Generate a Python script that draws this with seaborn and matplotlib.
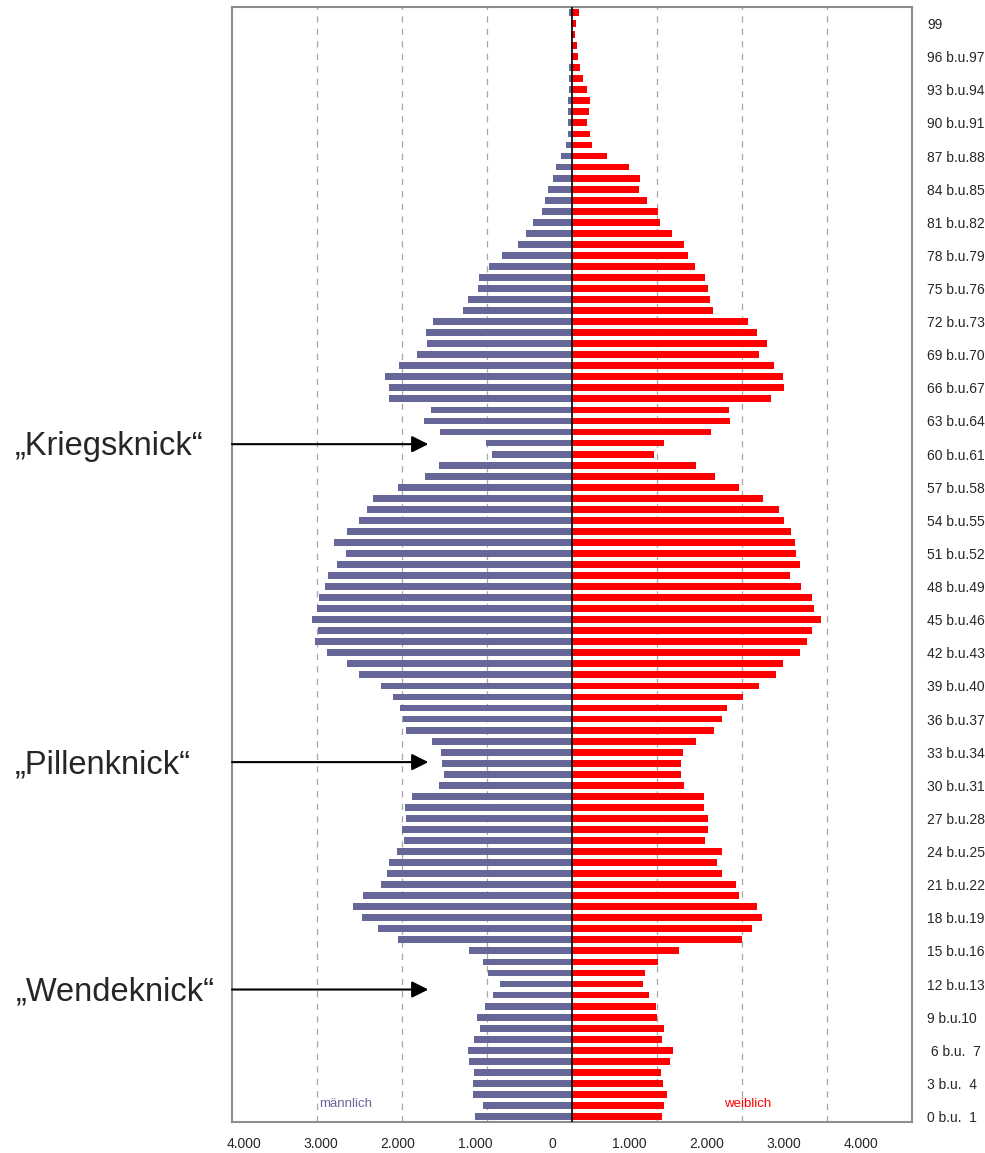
import seaborn as sns
import matplotlib.pyplot as plt
import pandas as pd

# Alter 0 bis 100 (Einzeljahre)
ages = list(range(101))

maennlich = [1140, 1044, 1169, 1169, 1153, 1211, 1224, 1153, 1085, 1123,
             1018, 935, 847, 985, 1048, 1207, 2049, 2280, 2469, 2573,
             2464, 2242, 2175, 2150, 2058, 1982, 1999, 1949, 1966, 1886,
             1559, 1505, 1530, 1547, 1651, 1949, 1991, 2028, 2104, 2251,
             2502, 2649, 2883, 3026, 2988, 3064, 2997, 2971, 2904, 2871,
             2762, 2657, 2800, 2649, 2502, 2414, 2347, 2049, 1735, 1567,
             947, 1006, 1555, 1744, 1664, 2158, 2158, 2204, 2033, 1827,
             1702, 1718, 1630, 1282, 1220, 1106, 1090, 977, 821, 637,
             536, 453, 356, 314, 277, 218, 189, 130, 75, 50,
             50, 42, 50, 38, 34, 34, 17, 17, 13, 13,
             34]

weiblich = [1064, 1077, 1115, 1069, 1048, 1153, 1194, 1056, 1077, 1002,
            989, 901, 838, 855, 1014, 1257, 1999, 2112, 2234, 2179,
            1961, 1932, 1764, 1702, 1760, 1563, 1605, 1601, 1551, 1551,
            1316, 1282, 1278, 1308, 1459, 1668, 1764, 1819, 2016, 2205,
            2402, 2485, 2687, 2770, 2829, 2934, 2850, 2821, 2699, 2561,
            2687, 2636, 2628, 2578, 2490, 2435, 2242, 1970, 1685, 1459,
            968, 1085, 1630, 1861, 1852, 2339, 2494, 2481, 2376, 2196,
            2297, 2175, 2066, 1655, 1618, 1605, 1563, 1450, 1362, 1316,
            1174, 1035, 1006, 884, 788, 805, 666, 415, 230, 214,
            180, 205, 214, 172, 130, 92, 67, 55, 34, 42,
            80]

# Beschriftung rechts (jede dritte Altersstufe)
label_ages = list(range(0, 100, 3))
label_texts = ["0 b.u.  1", "3 b.u.  4", " 6 b.u.  7", "9 b.u.10"] + \
    [f"{a} b.u.{a + 1}" for a in range(12, 99, 3)] + ["99"]

xtick_labels = ["4.000", "3.000", "2.000", "1.000", "0", "1.000", "2.000", "3.000", "4.000"]
xtick_pos = [-3860, -2952, -2045, -1138, -230, 678, 1585, 2492, 3400]

knicke = ["„Kriegsknick“", "„Pillenknick“", "„Wendeknick“"]
knick_alter = [60.9, 32.1, 11.5]

sns.set_style("white")
plt.rcParams['font.family'] = ['Liberation Sans', 'DejaVu Sans']

df = pd.DataFrame({
    "alter": [str(a) for a in ages] * 2,
    "wert": [-m for m in maennlich] + weiblich,
    "geschlecht": ["männlich"] * len(ages) + ["weiblich"] * len(ages),
})
order = [str(a) for a in reversed(ages)]

fig = plt.figure(figsize=(9.85, 11.53), dpi=100)
ax = fig.add_axes([232 / 985, 1 - 1122 / 1153, 680 / 985, 1115 / 1153])

for v in [-3000, -2000, -1000, 1000, 2000, 3000]:
    ax.axvline(v, color="#a6a6a6", lw=0.9, ls=(0, (5, 5)), zorder=0)

sns.barplot(data=df, x="wert", y="alter", hue="geschlecht", order=order,
            palette={"männlich": "#666699", "weiblich": "#FF0000"},
            saturation=1, dodge=False, width=0.62, errorbar=None, orient="h",
            legend=False, linewidth=0, ax=ax)

ax.axvline(0, color="black", lw=1.2, zorder=3)
ax.set_xlim(-4000, 4000)
ax.set_ylim(len(ages) - 0.5, -0.5)

for sp in ax.spines.values():
    sp.set_color("#8c8c8c")
    sp.set_linewidth(1.5)

ax.yaxis.tick_right()
ax.set_yticks([100 - a for a in label_ages])
ax.set_yticklabels(label_texts)
ax.tick_params(axis="y", length=0, pad=11, labelsize=10)
ax.set_xticks(xtick_pos)
ax.set_xticklabels(xtick_labels)
ax.tick_params(axis="x", length=0, pad=11, labelsize=10)
ax.set_xlabel("")
ax.set_ylabel("")

ax.text(-2970, 100 - 1.1, "männlich", color="#666699", fontsize=9.5, va="center")
ax.text(2070, 100 - 1.1, "weiblich", color="#FF0000", fontsize=9.5, va="center", ha="center")

# Pfeile und Beschriftungen links
text_x = [15, 15, 16]
for name, a, tx in zip(knicke, knick_alter, text_x):
    pos = 100 - a
    ax.annotate("", xy=(-1690, pos), xytext=(-4000, pos),
                arrowprops=dict(arrowstyle="-|>", color="black", lw=1.5,
                                mutation_scale=25, shrinkA=0, shrinkB=0),
                annotation_clip=False)
    y_px = 1116.5 - 11.04 * a + 11
    fig.text(tx / 985, 1 - y_px / 1153, name, fontsize=23.5, va="baseline", ha="left")

fig.savefig("out.png", dpi=100)
